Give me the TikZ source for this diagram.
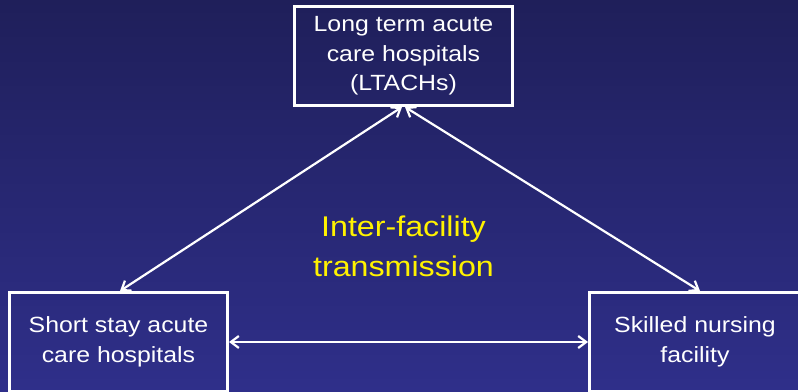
\documentclass[tikz,border=0pt]{standalone}
\usepackage{fontspec}
\setmainfont[FakeStretch=1.13]{Liberation Sans}
\usetikzlibrary{arrows.meta}
\definecolor{slidetop}{RGB}{31,31,90}
\definecolor{slidebottom}{RGB}{47,47,138}
\tikzset{x=1pt, y=1pt,
  facility/.style={draw=white, line width=3pt, text=white, align=center,
                   minimum width=218pt, minimum height=99pt, inner sep=0pt,
                   font=\fontsize{22}{29.5}\selectfont},
  transfer/.style={draw=white, line width=2.2pt,
                   arrows={Straight Barb[length=8pt,width=12pt]-Straight Barb[length=8pt,width=12pt]}}}

\begin{document}
\begin{tikzpicture}
  \clip (0,0) rectangle (798,391);
  \shade[top color=slidetop, bottom color=slidebottom] (0,0) rectangle (798,391);
  \node[facility] (ltach) at (403.5,335) {Long term acute\\care hospitals\\(LTACHs)};
  \node[facility] (acute) at (118.5,49) {Short stay acute\\care hospitals};
  \node[facility, minimum width=211pt] (snf) at (695,49) {Skilled nursing\\facility};
  \node[text=yellow, align=center, font=\fontsize{28.5}{40.5}\selectfont] (label) at (403.5,144.5) {Inter-facility\\transmission};
  \draw[transfer] ([xshift=-1.5pt]ltach.south) -- ([xshift=1.5pt]acute.north);
  \draw[transfer] ([xshift=1.5pt]ltach.south) -- ([xshift=5pt]snf.north);
  \draw[transfer] (acute.east) -- (snf.west);
\end{tikzpicture}
\end{document}
